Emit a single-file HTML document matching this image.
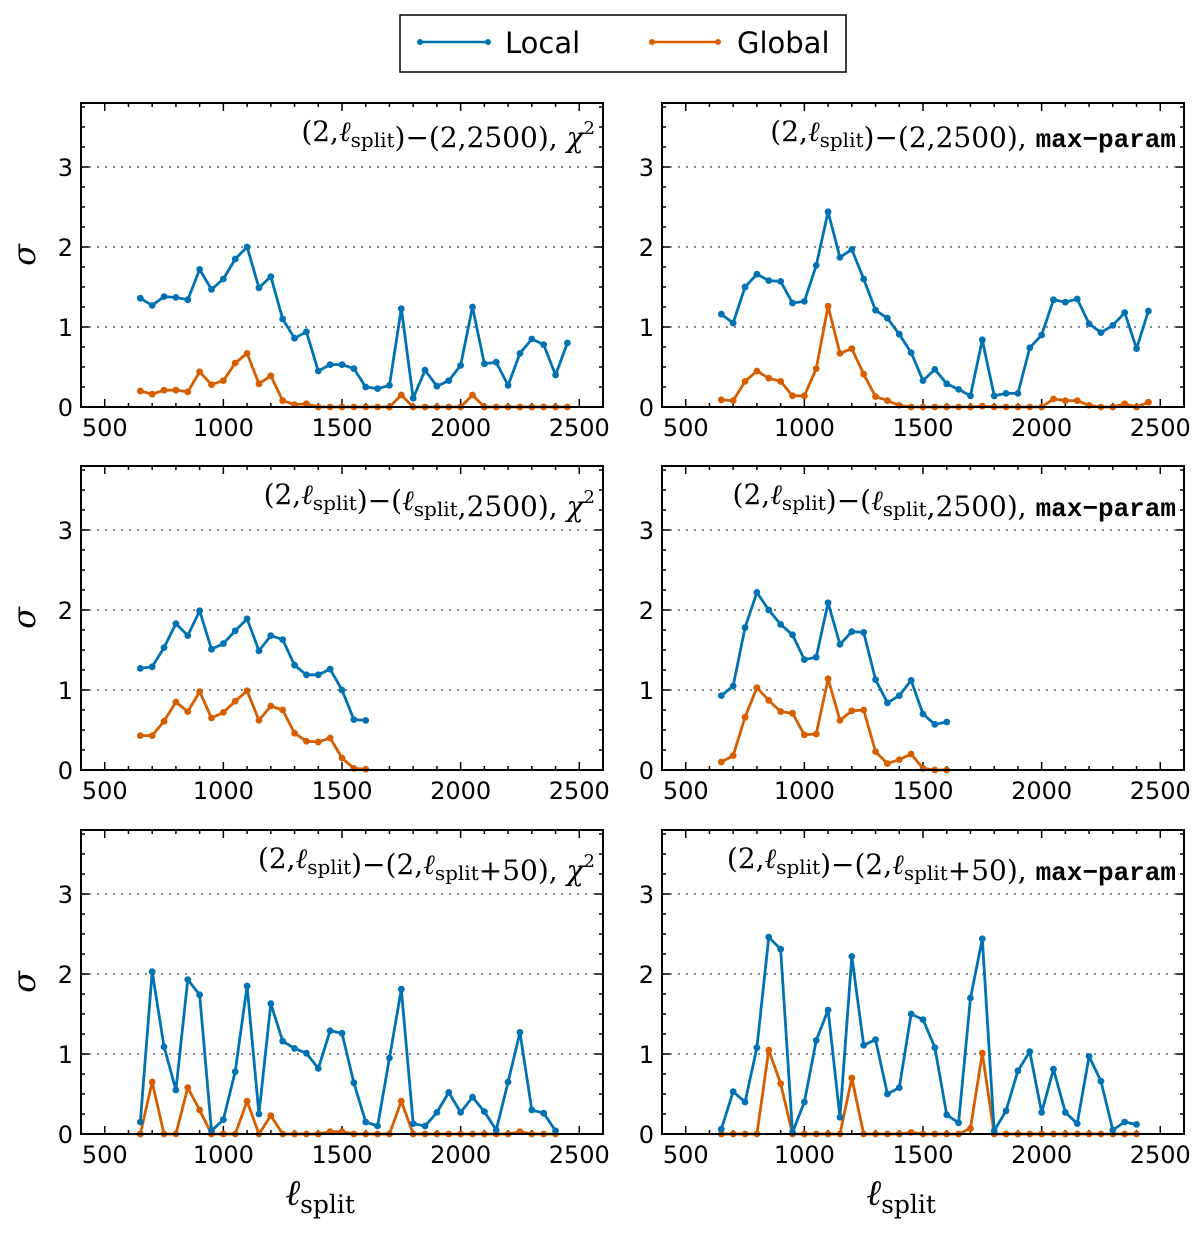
<!DOCTYPE html>
<html><head><meta charset="utf-8"><style>
body{margin:0;background:#fff;}
svg{display:block;}
.tick{font-family:"DejaVu Sans","Liberation Sans",sans-serif;font-size:24px;fill:#000;}
.ttl{font-family:"DejaVu Serif","Liberation Serif",serif;font-size:28px;fill:#000;}
.mono{font-family:"Liberation Mono",monospace;font-weight:bold;}
</style></head><body>
<svg id="fig" width="1200" height="1235" viewBox="0 0 1200 1235" xmlns="http://www.w3.org/2000/svg">
<g>
<rect x="400" y="15" width="446" height="57" fill="#fff" stroke="#000" stroke-width="1.5"/>
<line x1="420" y1="42" x2="488" y2="42" stroke="#0072b2" stroke-width="2.5"/>
<circle cx="420" cy="42" r="3" fill="#0072b2"/><circle cx="488" cy="42" r="3" fill="#0072b2"/>
<text x="505" y="53" font-family="DejaVu Sans, Liberation Sans, sans-serif" font-size="29">Local</text>
<line x1="652" y1="42" x2="718" y2="42" stroke="#d55e00" stroke-width="2.5"/>
<circle cx="652" cy="42" r="3" fill="#d55e00"/><circle cx="718" cy="42" r="3" fill="#d55e00"/>
<text x="737" y="53" font-family="DejaVu Sans, Liberation Sans, sans-serif" font-size="29">Global</text>
</g>
</svg>
<script>
const xsA = [650,700,750,800,850,900,950,1000,1050,1100,1150,1200,1250,1300,1350,1400,1450,1500,1550,1600,1650,1700,1750,1800,1850,1900,1950,2000,2050,2100,2150,2200,2250,2300,2350,2400,2450];
const xsB = [650,700,750,800,850,900,950,1000,1050,1100,1150,1200,1250,1300,1350,1400,1450,1500,1550,1600];
const xsC = [650,700,750,800,850,900,950,1000,1050,1100,1150,1200,1250,1300,1350,1400,1450,1500,1550,1600,1650,1700,1750,1800,1850,1900,1950,2000,2050,2100,2150,2200,2250,2300,2350,2400];
const localTL = [1.36,1.27,1.38,1.37,1.34,1.72,1.47,1.60,1.85,2.00,1.49,1.63,1.10,0.86,0.94,0.45,0.53,0.53,0.48,0.25,0.23,0.27,1.23,0.11,0.46,0.26,0.33,0.52,1.25,0.54,0.56,0.27,0.67,0.85,0.78,0.40,0.80];
const globalTL = [0.20,0.16,0.21,0.21,0.19,0.44,0.28,0.33,0.55,0.67,0.29,0.39,0.08,0.03,0.04,0,0,0,0,0,0,0,0.15,0,0,0,0,0,0.15,0,0,0,0,0,0,0,0];
const localTR = [1.16,1.05,1.50,1.66,1.58,1.57,1.30,1.32,1.77,2.44,1.87,1.97,1.60,1.21,1.11,0.91,0.68,0.33,0.47,0.29,0.22,0.14,0.84,0.14,0.17,0.17,0.74,0.90,1.34,1.31,1.35,1.04,0.93,1.02,1.18,0.73,1.20];
const globalTR = [0.09,0.08,0.32,0.45,0.36,0.32,0.14,0.14,0.48,1.26,0.67,0.73,0.41,0.13,0.08,0.02,0,0,0,0,0,0,0.01,0,0,0,0,0,0.10,0.08,0.08,0.02,0,0,0.04,0,0.06];
const localML = [1.27,1.29,1.53,1.83,1.68,1.99,1.51,1.58,1.74,1.89,1.49,1.68,1.63,1.31,1.19,1.19,1.26,1.00,0.63,0.62];
const globalML = [0.43,0.43,0.61,0.85,0.73,0.98,0.65,0.72,0.86,0.99,0.62,0.80,0.75,0.46,0.36,0.35,0.40,0.15,0.02,0.01];
const localMR = [0.93,1.05,1.78,2.22,2.00,1.82,1.69,1.38,1.41,2.09,1.57,1.73,1.72,1.13,0.84,0.93,1.12,0.70,0.57,0.60];
const globalMR = [0.10,0.18,0.66,1.03,0.87,0.73,0.71,0.44,0.45,1.14,0.62,0.74,0.75,0.23,0.08,0.13,0.20,0.02,0,0];
const localBL = [0.15,2.03,1.09,0.55,1.93,1.74,0.04,0.18,0.78,1.85,0.25,1.63,1.16,1.07,1.01,0.82,1.29,1.26,0.64,0.15,0.10,0.95,1.81,0.13,0.10,0.27,0.52,0.27,0.46,0.28,0.05,0.65,1.27,0.30,0.26,0.04];
const globalBL = [0,0.65,0,0,0.58,0.30,0,0,0,0.41,0,0.23,0,0,0,0,0.03,0.03,0,0,0,0,0.41,0,0,0,0,0,0,0,0,0,0.03,0,0,0];
const localBR = [0.06,0.53,0.40,1.08,2.46,2.31,0.02,0.40,1.17,1.55,0.21,2.22,1.11,1.18,0.50,0.58,1.50,1.43,1.08,0.24,0.14,1.70,2.44,0.04,0.29,0.79,1.03,0.27,0.81,0.27,0.13,0.97,0.66,0.05,0.15,0.12];
const globalBR = [0,0,0,0,1.05,0.63,0,0,0,0,0,0.70,0,0,0,0,0.02,0,0,0,0,0.07,1.01,0,0,0,0,0,0,0,0,0,0,0,0,0];
const xTickLabels = [500,1000,1500,2000,2500];
const yTickLabels = [0,1,2,3];

const NS='http://www.w3.org/2000/svg';
const svg=document.getElementById('fig');
function mk(tag,attrs,parent){const e=document.createElementNS(NS,tag);for(const k in attrs)e.setAttribute(k,attrs[k]);parent.appendChild(e);return e;}
const panels=[
 {id:'top-left',L:81,T:103,xs:xsA,loc:localTL,glo:globalTL,title:'chi',p:['2','2500'],ylab:true},
 {id:'top-right',L:662,T:103,xs:xsA,loc:localTR,glo:globalTR,title:'max',p:['2','2500']},
 {id:'middle-left',L:81,T:466,xs:xsB,loc:localML,glo:globalML,title:'chi',p:['l','2500'],ylab:true},
 {id:'middle-right',L:662,T:466,xs:xsB,loc:localMR,glo:globalMR,title:'max',p:['l','2500']},
 {id:'bottom-left',L:81,T:830,xs:xsC,loc:localBL,glo:globalBL,title:'chi',p:['2','l50'],ylab:true,xlab:true},
 {id:'bottom-right',L:662,T:830,xs:xsC,loc:localBR,glo:globalBR,title:'max',p:['2','l50'],xlab:true},
];
const W=522,H=304,X0=400,X1=2600,Y1=3.8;
panels.forEach(P=>{
 const g=mk('g',{},svg);
 
 
 const sx=v=>P.L+(v-X0)/(X1-X0)*W;
 const sy=v=>P.T+H-v/Y1*H;
 [1,2,3].forEach(v=>{const l=mk('line',{x1:P.L,x2:P.L+W,y1:sy(v),y2:sy(v),stroke:'#888','stroke-width':2,'stroke-dasharray':'2,6'},g);
  });
 for(let v=500;v<=2500;v+=100){const x=sx(v),len=(v%500===0)?8:4;
  mk('line',{x1:x,x2:x,y1:P.T+H,y2:P.T+H-len,stroke:'#000','stroke-width':1.5},g);
  mk('line',{x1:x,x2:x,y1:P.T,y2:P.T+len,stroke:'#000','stroke-width':1.5},g);}
 for(let v=0.25;v<3.8;v+=0.25){const y=sy(v),len=(Math.abs(v-Math.round(v))<1e-6)?8:4;
  mk('line',{x1:P.L,x2:P.L+len,y1:y,y2:y,stroke:'#000','stroke-width':1.5},g);
  mk('line',{x1:P.L+W,x2:P.L+W-len,y1:y,y2:y,stroke:'#000','stroke-width':1.5},g);}
 xTickLabels.forEach(v=>{const t=mk('text',{x:sx(v),y:P.T+H+29,'text-anchor':'middle',class:'tick'},g);t.textContent=v;
  });
 yTickLabels.forEach(v=>{const t=mk('text',{x:P.L-8,y:sy(v)+9,'text-anchor':'end',class:'tick'},g);t.textContent=v;
  });
 [[P.glo,'#d55e00','global'],[P.loc,'#0072b2','local']].forEach(([arr,c,n])=>{
  const pts=arr.map((v,i)=>sx(P.xs[i])+','+sy(v)).join(' ');
  const pl=mk('polyline',{points:pts,fill:'none',stroke:c,'stroke-width':2.8,'stroke-linejoin':'round'},g);
  
  arr.forEach((v,i)=>{const m=mk('circle',{cx:sx(P.xs[i]),cy:sy(v),r:3.4,fill:c},g);
   });
 });
 mk('rect',{x:P.L,y:P.T,width:W,height:H,fill:'none',stroke:'#000','stroke-width':2},g);
 const t=mk('text',{x:P.L+W-8,y:P.T+38,'text-anchor':'end',class:'ttl'},g);
 
 const sp=(txt,extra)=>{const s=mk('tspan',extra||{},t);s.textContent=txt;return s;};
 const ell=()=>{sp('ℓ',{'font-style':'italic'});sp('split',{'font-size':20,dy:6});sp('',{dy:-6});};
 sp('(2,');ell();sp(')−(');
 if(P.p[0]==='l'){ell();}else sp('2');
 sp(',');
 if(P.p[1]==='l50'){ell();sp('+50');}else sp('2500');
 sp('), ');
 if(P.title==='chi'){sp('χ',{'font-style':'italic'});sp('2',{'font-size':18,dy:-13});sp('',{dy:13});}
 else{sp('max−param',{class:'mono','font-size':26});}
 if(P.ylab){const yl=mk('text',{x:33,y:P.T+H/2+2,'text-anchor':'middle','font-family':'DejaVu Serif, Liberation Serif, serif','font-style':'italic','font-size':32,transform:`rotate(-90 33 ${P.T+H/2})`},g);
  yl.textContent='σ';}
 if(P.xlab){const xl=mk('text',{x:P.L+W/2-22,y:1205,'text-anchor':'middle','font-family':'DejaVu Serif, Liberation Serif, serif','font-size':36},g);
  
  const a=mk('tspan',{'font-style':'italic'},xl);a.textContent='ℓ';
  const b=mk('tspan',{'font-size':25,dy:8},xl);b.textContent='split';}
});
</script>
</body></html>
